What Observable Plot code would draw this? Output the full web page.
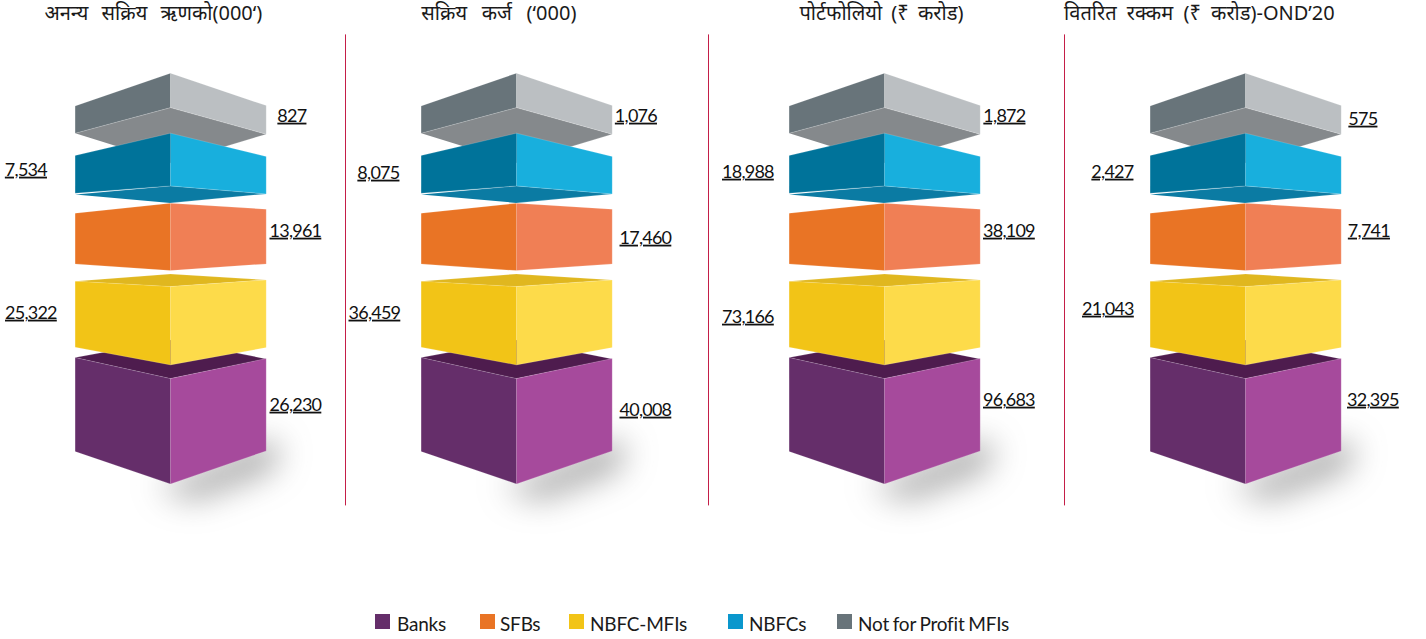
<!DOCTYPE html>
<html><head><meta charset="utf-8">
<script src="https://cdn.jsdelivr.net/npm/d3@7"></script>
<script src="https://cdn.jsdelivr.net/npm/@observablehq/plot@0.6"></script>
<style>
html,body{margin:0;padding:0;background:#fff;}
#chart{width:1426px;height:600px;}
#legend{position:relative;width:1426px;height:39px;font-family:Lato,sans-serif;font-size:19px;color:#1a1a1a;letter-spacing:-.2px;word-spacing:-1px;}
#legend i{position:absolute;top:14px;width:15px;height:15px;}
#legend span{position:absolute;top:12px;white-space:nowrap;}
.val text{text-decoration:underline;text-decoration-thickness:2px;text-underline-offset:2px;text-decoration-color:#000;letter-spacing:-.75px;}
</style></head><body>
<div id="chart"></div><div id="legend"></div>
<script>
const titles=["अनन्य सक्रिय ऋणको(000‘)","सक्रिय कर्ज (‘000)","पोर्टफोलियो (₹ करोड)","वितरित रक्कम (₹ करोड)-OND’20"];
const lenders=["Banks","SFBs","NBFC-MFIs","NBFCs","Not for Profit MFIs"];
const borrowers=[26230,13961,25322,7534,827];
const loans=[40008,17460,36459,8075,1076];
const portfolio=[96683,38109,73166,18988,1872];
const disbursed=[32395,7741,21043,2427,575];
const series=[borrowers,loans,portfolio,disbursed];

// layout
const W=1426,H=600;
const centres=[170.6,516.6,884.6,1245.6];
const titleX=[153.5,499,881.5,1199.5];
const titleGap=[8,9.5,4,5];
const sepX=[345.6,708.6,1064.6];
const sepColor="#c41e47";
const labelX=[[295.5,295.5,31,26,292],[645.5,645.5,374.5,378.5,636],[1009,1009,748,748,1004.5],[1373,1369,1108,1112.5,1363]];
const labelY=[[405,231,313,170,116],[410,238,313,173,116],[400,231,317,172,116],[400,231,309,172,119]];
const legendX=[375,479.5,569,728,837];
const legendC=["#652e6a","#e97425","#f2c417","#0a97cd","#68747a"];
const legendTextX=[397,500,590,749,858];

// one stack of faces: fill, then [offset from centre, height] corners, painted back to front
const faces=[
 ["#4e1c4e",[[-95.3,357.7],[0,340],[95.7,359],[0,378.7]]],
 ["#652e6a",[[-95.3,357.7],[0,378.7],[0,484],[-95.3,451.7]]],
 ["#a64a9c",[[0,378.7],[95.7,358.6],[95.7,451],[0,484]]],
 ["#e0b71f",[[-95.3,281.3],[0,274],[95.7,280],[0,286.7]]],
 ["#f2c417",[[-95.3,281.3],[0,286.7],[0,365],[-95.3,347.3]]],
 ["#fddb4a",[[0,286.7],[95.7,280],[95.7,347.7],[0,365]]],
 ["#e97425",[[-95.3,213.3],[0,203.3],[0,270.7],[-95.3,264]]],
 ["#f07f55",[[0,203.3],[95.7,209.3],[95.7,264],[0,270.7]]],
 ["#85898c",[[-95.3,133.3],[0,107.7],[95.7,134.3],[0,163]]],
 ["#0b7ba3",[[-95.3,194.5],[0,186],[95.7,194],[0,203]]],
 ["#00739a",[[-95.3,155.7],[0,133.3],[0,186],[-95.3,193.3]]],
 ["#18afdd",[[0,133.3],[95.7,156.7],[95.7,194],[0,186]]],
 ["#68747a",[[-95.3,106],[0,73.3],[0,107.7],[-95.3,133.3]]],
 ["#bbbfc2",[[0,73.3],[95.7,105.7],[95.7,134.3],[0,107.7]]]
];
const shadow=[[-15,478],[0,484],[95,440],[112,450],[98,472],[25,500],[0,494]];

const place=pts=>centres.flatMap((c,panel)=>pts.map(([dx,y])=>({x:c+dx,y,panel})));
const labels=series.flatMap((vals,p)=>vals.map((v,i)=>({x:labelX[p][i],y:labelY[p][i],t:d3.format(",")(v)})));

const plot=Plot.plot({
 width:W,height:H,margin:0,
 x:{domain:[0,W],range:[-.6,W-.6],axis:null},
 y:{domain:[0,H],range:[-.6,H-.6],axis:null},
 marks:[
  Plot.line(place(shadow),{x:"x",y:"y",z:"panel",fill:"#555",stroke:"none",fillOpacity:.5,imageFilter:"blur(16px)"}),
  ...faces.map(([fill,pts])=>Plot.line(place(pts),{x:"x",y:"y",z:"panel",fill,stroke:"#fff",strokeWidth:.4,strokeOpacity:.4})),
  Plot.ruleX(sepX,{y1:35,y2:506,stroke:sepColor,strokeWidth:1}),
  Plot.text(titles,{x:(d,i)=>titleX[i],y:()=>14,text:d=>d,fontSize:20,fill:"#1a1a1a",fontFamily:"'Noto Sans',Lato,sans-serif",className:"ttl"}),
  Plot.text(labels,{x:"x",y:"y",text:"t",fontSize:18,fill:"#111",fontFamily:"Lato,sans-serif",className:"val"})
 ]
});
document.getElementById("chart").append(plot);
d3.select(plot).selectAll(".ttl text").each(function(d,i){this.style.wordSpacing=titleGap[i]+"px";});
const lg=document.getElementById("legend");
lenders.forEach((n,i)=>{
 const sw=document.createElement("i");sw.style.left=legendX[i]+"px";sw.style.background=legendC[i];
 const t=document.createElement("span");t.style.left=legendTextX[i]+"px";t.textContent=n;
 lg.append(sw,t);
});
</script></body></html>
